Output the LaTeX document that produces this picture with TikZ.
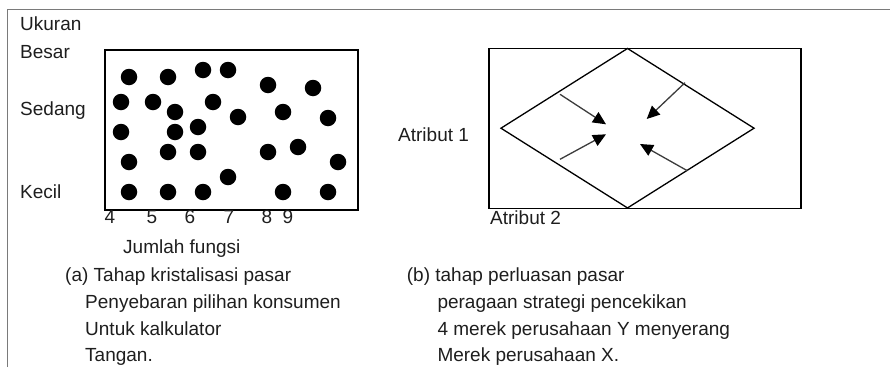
\documentclass[tikz,border=0pt]{standalone}
\usepackage{fontspec}
\setmainfont{Liberation Sans}
\usetikzlibrary{arrows.meta,shapes.geometric}
\definecolor{Ink}{HTML}{1E1E1E}
\definecolor{FrameGray}{HTML}{7A7A7A}
\definecolor{ArrowGray}{HTML}{3C3C3C}

\begin{document}
\begin{tikzpicture}[x=1pt,y=-1pt,
  txt/.style={anchor=base west,inner sep=0pt,text=Ink,font=\fontsize{19}{21}\selectfont},
  tick/.style={anchor=base,inner sep=0pt,text=Ink,font=\fontsize{19}{21}\selectfont},
  panel/.style={draw=black,line width=1.5pt,minimum width=#1,minimum height=160pt,inner sep=0pt},
  zone/.style={diamond,draw=black,line width=1.3pt,minimum width=253.6pt,minimum height=160pt,inner sep=0pt},
  dot/.style={circle,fill=black,inner sep=0pt,minimum size=16.5pt},
  push/.style={-{Triangle[length=13pt,width=12pt,color=black]},draw=ArrowGray,line width=1.3pt}
]
\useasboundingbox (0,0) rectangle (890,367);
\draw[FrameGray,line width=1.5pt] (7.5,367) |- (890,9.5);

\node[txt] (size) at (20,30) {Ukuran};
\node[txt] (big) at (20,58) {Besar};
\node[txt] (mid) at (20,115) {Sedang};
\node[txt] (small) at (20,198) {Kecil};

\node[panel=253pt] (crystal) at (231.5,130) {};
\foreach \x/\y [count=\i] in {129/77,168/77,203/70,228/70,268/85,313/88,
  121/102,153/102,175/112,213/102,238/117,283/112,328/118,
  121/132,175/132,198/127,168/152,198/152,268/152,298/147,
  129/162,338/162,228/177,
  129/192,168/192,203/192,283/192,328/192}
  \node[dot] (dot\i) at (\x,\y) {};

\foreach \n/\x in {4/110,5/152,6/190,7/229,8/267,9/288}
  \node[tick] (tick\n) at (\x,223.5) {\n};
\node[txt] (functions) at (123,253) {Jumlah fungsi};

\node[txt] (capa) at (65,281.7) {(a) Tahap kristalisasi pasar};
\node[txt] (capa1) at (85,308.3) {Penyebaran pilihan konsumen};
\node[txt] (capa2) at (85,335) {Untuk kalkulator};
\node[txt] (capa3) at (85,361.7) {Tangan.};

\node[panel=312pt] (expand) at (645,128.3) {};
\node[zone] (market) at (627.5,128.2) {};
\node[txt] (attr1) at (398,141.7) {Atribut 1};
\node[txt] (attr2) at (490,224) {Atribut 2};

\coordinate (nw) at (560,94.3);
\coordinate (ne) at (685,82.7);
\coordinate (sw) at (560,159.3);
\coordinate (se) at (687.3,170.7);
\coordinate (nwtip) at (606,124.3);
\coordinate (netip) at (646.7,119);
\coordinate (swtip) at (606,134.3);
\coordinate (setip) at (640,144);
\draw[push] (nw) -- (nwtip);
\draw[push] (ne) -- (netip);
\draw[push] (sw) -- (swtip);
\draw[push] (se) -- (setip);

\node[txt] (capb) at (406.7,281.7) {(b) tahap perluasan pasar};
\node[txt] (capb1) at (437.3,308.3) {peragaan strategi pencekikan};
\node[txt] (capb2) at (437.3,335) {4 merek perusahaan Y menyerang};
\node[txt] (capb3) at (437.3,361.7) {Merek perusahaan X.};
\end{tikzpicture}
\end{document}
